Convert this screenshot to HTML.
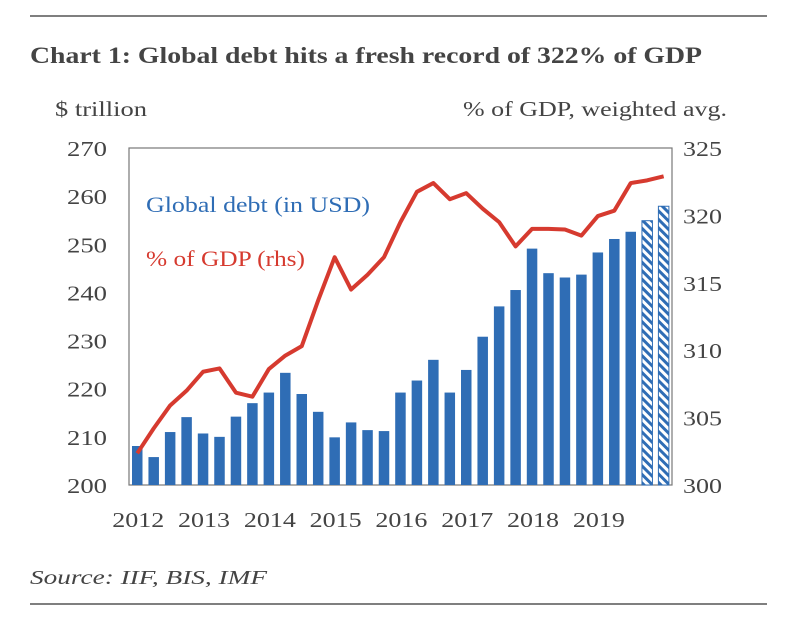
<!DOCTYPE html>
<html><head><meta charset="utf-8"><style>
body{margin:0;background:#fff;width:800px;height:615px;overflow:hidden;font-family:"Liberation Serif",serif;color:#444}
</style></head><body>
<svg width="800" height="615">
<defs><pattern id="hatch" patternUnits="userSpaceOnUse" width="6" height="6" patternTransform="rotate(45)"><rect width="6" height="6" fill="#fff"/><rect width="6" height="3" fill="#2f6db5"/></pattern></defs>
<line x1="30" y1="16" x2="767" y2="16" stroke="#555" stroke-width="1.5"/>
<text x="30" y="63" font-size="23" font-weight="bold" fill="#444" textLength="672" lengthAdjust="spacingAndGlyphs">Chart 1: Global debt hits a fresh record of 322% of GDP</text>
<text x="55" y="116" font-size="21" fill="#444" textLength="92" lengthAdjust="spacingAndGlyphs">$ trillion</text>
<text x="463" y="116" font-size="21" fill="#444" textLength="264" lengthAdjust="spacingAndGlyphs">% of GDP, weighted avg.</text>
<rect x="129" y="148" width="543" height="337" fill="none" stroke="#777" stroke-width="1.2"/>
<g id="bars"></g><g id="line"></g><g id="axes"></g>
<text x="146" y="212" font-size="22" fill="#2f6db5" textLength="224" lengthAdjust="spacingAndGlyphs">Global debt (in USD)</text>
<text x="146" y="266" font-size="22" fill="#d63a2f" textLength="159" lengthAdjust="spacingAndGlyphs">% of GDP (rhs)</text>
<text x="30" y="584" font-size="20" font-style="italic" fill="#444" textLength="237" lengthAdjust="spacingAndGlyphs">Source: IIF, BIS, IMF</text>
<line x1="30" y1="604" x2="767" y2="604" stroke="#555" stroke-width="1.5"/>
</svg>
<script>
const debt=[208.1,205.8,211.0,214.1,210.7,210.0,214.2,217.0,219.2,223.3,218.9,215.2,209.9,213.0,211.4,211.2,219.2,221.7,226.0,219.2,223.9,230.8,237.1,240.5,249.1,244.0,243.1,243.7,248.3,251.1,252.6,254.9,257.9];
const hatched=[31,32];
const pctGdp=[302.35,304.2,305.9,307.0,308.4,308.65,306.85,306.55,308.6,309.6,310.3,313.7,316.9,314.5,315.6,316.9,319.5,321.75,322.4,321.2,321.65,320.5,319.5,317.7,319.0,319.0,318.95,318.5,319.95,320.35,322.4,322.6,322.9];
const leftTicks=[200,210,220,230,240,250,260,270];
const rightTicks=[300,305,310,315,320,325];
const yearLabels=["2012","2013","2014","2015","2016","2017","2018","2019"];
const NS="http://www.w3.org/2000/svg";
const X0=132,PITCH=16.45,BW=10.5,TOP=148,BOT=485;
const yL=v=>BOT-(v-200)/70*(BOT-TOP);
const yR=v=>BOT-(v-300)/25*(BOT-TOP);
const xC=i=>X0+i*PITCH+BW/2;
function mk(t,a,p){const e=document.createElementNS(NS,t);for(const k in a)e.setAttribute(k,a[k]);p.appendChild(e);return e;}
const gb=document.getElementById('bars');
debt.forEach((v,i)=>{const h=hatched.includes(i);
const r=mk('rect',{x:X0+i*PITCH,y:yL(v),width:BW,height:BOT-yL(v),fill:h?'url(#hatch)':'#2f6db5',stroke:h?'#2f6db5':'none','stroke-width':1},gb);

});
const gl=document.getElementById('line');
const pl=mk('polyline',{points:pctGdp.map((v,i)=>xC(i)+','+yR(v)).join(' '),fill:'none',stroke:'#d63a2f','stroke-width':4,'stroke-linejoin':'round'},gl);


const ga=document.getElementById('axes');
leftTicks.forEach(v=>{const t=mk('text',{x:107,y:yL(v)+8,'font-size':21,'text-anchor':'end',fill:'#444',textLength:40,lengthAdjust:'spacingAndGlyphs'},ga);t.textContent=v;

});
rightTicks.forEach(v=>{const t=mk('text',{x:683,y:yR(v)+8,'font-size':21,fill:'#444',textLength:39,lengthAdjust:'spacingAndGlyphs'},ga);t.textContent=v;

});
yearLabels.forEach((s,i)=>{const t=mk('text',{x:xC(i*4)+1,y:527,'font-size':21,'text-anchor':'middle',fill:'#444',textLength:52,lengthAdjust:'spacingAndGlyphs'},ga);t.textContent=s;

});
</script>
</body></html>
